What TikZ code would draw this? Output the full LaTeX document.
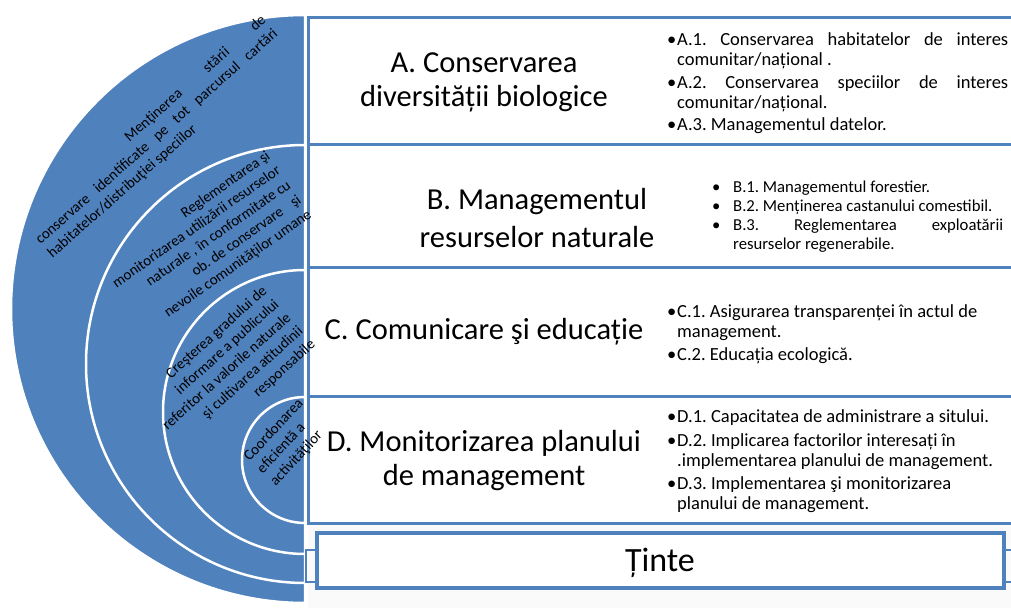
\documentclass[tikz,border=0pt]{standalone}
\usepackage{fontspec}
\setmainfont{Carlito}
\usetikzlibrary{positioning}
\frenchspacing

\definecolor{accblue}{HTML}{4F81BD}
\newcommand{\bul}{\makebox[10pt][l]{•}}
\newcommand{\bulB}{\makebox[21pt][l]{•}}
\newcommand{\topline}{\rule{0pt}{16pt}}

\tikzset{
  band/.style={fill=accblue,draw=white,line width=2.5pt},
  rowbox/.style={draw=accblue,line width=3pt,fill=white},
  bandtext/.style={font=\fontsize{15}{18}\selectfont,inner sep=0pt},
  headtext/.style={font=\fontsize{30.5}{34}\selectfont,align=center,inner sep=0pt},
  listtext/.style={font=\fontsize{18.5}{20}\selectfont,align=left,inner sep=0pt,anchor=north west},
}

\begin{document}
\begin{tikzpicture}[x=1pt,y=1pt]
  \useasboundingbox (0,0) rectangle (1011,608);
  \clip (0,0) rectangle (1011,608);
  \fill[black!2] (308,0) rectangle (1011,85);

  % nested half circles
  \draw[band] (305,593) arc[start angle=90,end angle=270,radius=294] -- cycle;
  \draw[band] (305,463) arc[start angle=90,end angle=270,radius=219] -- cycle;
  \draw[band] (305,338) arc[start angle=90,end angle=270,radius=142] -- cycle;
  \draw[band] (305,211) arc[start angle=90,end angle=270,radius=63] -- cycle;

  % rows on the right
  \draw[rowbox] (308,590) rectangle (1020,463);
  \draw[rowbox] (308,463) rectangle (1020,340);
  \draw[rowbox] (308,340) rectangle (1020,211);
  \draw[rowbox] (308,211) rectangle (1020,85);

  % texts of the half circles
  \node[bandtext,rotate=41.4,align=left] (keepA) at (157,471)
    {\makebox[317pt][r]{Menţinerea\hspace{33pt}stării\hspace{33pt}de}\\
     \makebox[317pt][s]{conservare identificate pe tot parcursul cartări}\\
     habitatelor/distribuţiei speciilor};
  \node[bandtext,rotate=35,align=right] (keepB) at (207,366)
    {Reglementarea şi\\monitorizarea utilizării resurselor\\naturale , în conformitate cu\\ob. de conservare\hspace{12pt}şi\\nevoile comunităţilor umane};
  \node[bandtext,rotate=42,align=right] (keepC) at (227,236)
    {Creşterea gradului de\\informare a publicului\\referitor la valorile naturale\\şi cultivarea atitudinii\\responsabile};
  \node[bandtext,rotate=47,align=left] (keepD) at (287,165.5)
    {Coordonarea\\eficientă a\\activităţilor};

  \node[headtext] (headA) at (484,526) {A. Conservarea\\diversității biologice};
  \node[headtext,font=\fontsize{30.5}{38}\selectfont] (headB) at (537,390) {B. Managementul\\resurselor naturale};
  \node[headtext,anchor=base] (headC) at (484,268) {C. Comunicare şi educație};
  \node[headtext] (headD) at (484,147.5) {D. Monitorizarea planului\\de management};

  \node[listtext] (listA) at (667,578.5)
    {\topline\bul\makebox[331pt][s]{A.1. Conservarea habitatelor de interes}\\
     \hspace*{10pt}comunitar/național .\\[2.5pt]
     \bul\makebox[331pt][s]{A.2. Conservarea speciilor de interes}\\
     \hspace*{10pt}comunitar/național.\\[2.5pt]
     \bul A.3. Managementul datelor.};
  \node[listtext,font=\fontsize{16.7}{19}\selectfont] (listB) at (712,432)
    {\topline\bulB B.1. Managementul forestier.\\
     \bulB B.2. Menținerea castanului comestibil.\\
     \bulB\makebox[270pt][s]{B.3. Reglementarea exploatării}\\
     \hspace*{21pt}resurselor regenerabile.};
  \node[listtext] (listC) at (667,306.5)
    {\topline\bul C.1. Asigurarea transparenței în actul de\\
     \hspace*{10pt}management.\\[3pt]
     \bul C.2. Educația ecologică.};
  \node[listtext] (listD) at (667,202)
    {\topline\bul D.1. Capacitatea de administrare a sitului.\\[4pt]
     \bul D.2. Implicarea factorilor interesați în\\
     \hspace*{10pt}.implementarea planului de management.\\[3pt]
     \bul D.3. Implementarea şi monitorizarea\\
     \hspace*{10pt}planului de management.};

  % goals box
  \draw[accblue,line width=2.5pt] (306,58) rectangle (1020,26);
  \draw[rowbox,line width=3.5pt] (317,75) rectangle (1004,20);
  \node[headtext,font=\fontsize{34}{38}\selectfont,anchor=base] (goals) at (660,37) {Ținte};
\end{tikzpicture}
\end{document}
